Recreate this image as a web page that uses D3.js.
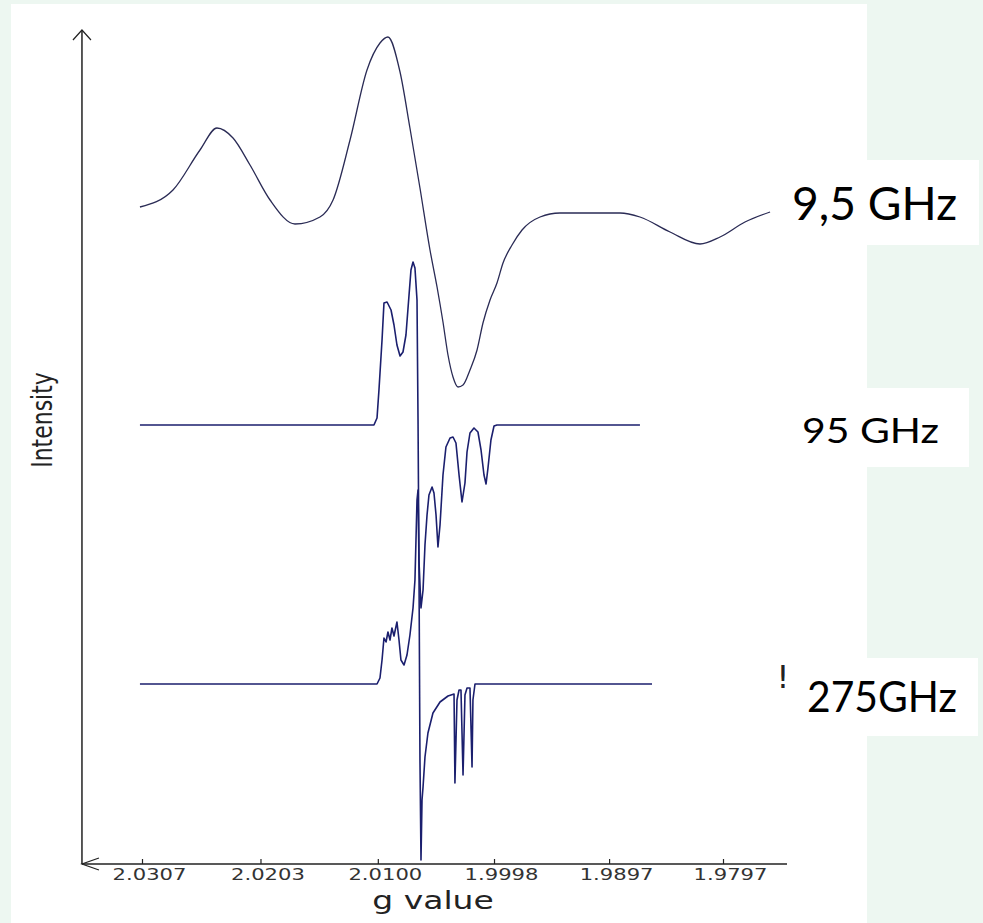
<!DOCTYPE html>
<html>
<head>
<meta charset="utf-8">
<script src="https://cdn.jsdelivr.net/npm/d3@7"></script>
<style>
  html, body { margin: 0; padding: 0; background: #edf7f1; }
  svg { display: block; }
</style>
</head>
<body>
<div id="chart"></div>
<script>
// g-value tick positions on the x axis
const gTicks = [2.0307, 2.0203, 2.0100, 1.9998, 1.9897, 1.9797];

// spectrum labels and their vertical offsets (arbitrary intensity units)
const labels = ["9,5 GHz", "95 GHz", "275GHz"];
const offsets = [65.1, 43.9, 18.0];

// [g value, intensity], relative to each baseline
const spec9_5 = [
    [2.03088, 0.6], [2.02798, 2.3], [2.02561, 6.3], [2.02412, 8.5], [2.02271, 7.5],
    [2.02122, 4.8], [2.01946, 1.3], [2.01727, -1.1], [2.01508, -0.4], [2.01393, 1.3],
    [2.01244, 7.3], [2.01095, 14.3], [2.00981, 17.0], [2.00911, 17.6], [2.00805, 14.1],
    [2.00718, 8.5], [2.00630, 2.5], [2.00542, -3.7], [2.00480, -7.4], [2.00428, -10.9],
    [2.00384, -14.2], [2.00340, -16.4], [2.00296, -17.4], [2.00252, -17.2], [2.00191, -15.7],
    [2.00129, -13.7], [2.00077, -11.0], [2.00015, -8.7], [1.99954, -7.0], [1.99901, -5.0],
    [1.99822, -3.2], [1.99734, -1.7], [1.99576, -0.4], [1.99401, 0], [1.98874, 0],
    [1.98699, -0.4], [1.98435, -1.9], [1.98172, -3.1], [1.97996, -2.4], [1.97777, -0.9],
    [1.97557, 0.1]
];

const spec95 = [
    [2.03088, 0], [2.01034, 0], [2.01007, 0.7], [2.00990, 3.5], [2.00963, 8.5],
    [2.00946, 12.2], [2.00919, 12.3], [2.00884, 11.5], [2.00858, 10.0], [2.00832, 8.0],
    [2.00805, 6.9], [2.00779, 7.3], [2.00753, 9.0], [2.00726, 13.0], [2.00709, 15.5],
    [2.00691, 16.3], [2.00674, 15.7], [2.00656, 12.5], [2.00647, 0.5], [2.00639, -13.5],
    [2.00621, -18.3], [2.00603, -16.5], [2.00586, -12.0], [2.00568, -9.0], [2.00551, -7.0],
    [2.00524, -6.2], [2.00507, -6.8], [2.00489, -9.0], [2.00472, -12.2], [2.00454, -10.0],
    [2.00428, -5.0], [2.00402, -2.2], [2.00366, -1.3], [2.00340, -1.2], [2.00314, -1.8],
    [2.00287, -5.0], [2.00261, -7.7], [2.00235, -5.8], [2.00217, -2.7], [2.00191, -0.8],
    [2.00156, -0.3], [2.00121, -0.7], [2.00094, -2.5], [2.00068, -5.0], [2.00050, -5.9],
    [2.00033, -4.3], [2.00007, -1.5], [1.99980, -0.1], [1.99954, 0], [1.98699, 0]
];

const spec275 = [
    [2.03088, 0], [2.01007, 0], [2.00981, 0.6], [2.00963, 2.4], [2.00946, 4.6],
    [2.00928, 4.2], [2.00911, 5.2], [2.00893, 4.4], [2.00876, 5.6], [2.00858, 4.8],
    [2.00832, 6.2], [2.00814, 4.4], [2.00797, 2.4], [2.00770, 1.9], [2.00744, 2.9],
    [2.00718, 4.9], [2.00691, 7.6], [2.00674, 10.4], [2.00665, 14.4], [2.00656, 18.4],
    [2.00647, 19.4], [2.00639, 12.4], [2.00630, -7.6], [2.00621, -17.6], [2.00612, -11.6],
    [2.00603, -10.3], [2.00586, -7.3], [2.00560, -4.9], [2.00516, -2.9], [2.00454, -1.8],
    [2.00384, -1.2], [2.00331, -1.0], [2.00323, -9.9], [2.00305, -1.6], [2.00287, -0.6],
    [2.00270, -0.6], [2.00252, -9.1], [2.00235, -1.1], [2.00217, -0.4], [2.00191, -0.4],
    [2.00173, -8.3], [2.00165, -1.6], [2.00147, 0], [1.98593, 0]
];

const width = 983, height = 923;

const svg = d3.select("#chart")
    .append("svg")
    .attr("width", width)
    .attr("height", height);

// white plot panel
svg.append("rect")
    .attr("x", 11).attr("y", 4)
    .attr("width", 856).attr("height", height - 4)
    .attr("fill", "#ffffff");

// Scales
const x = d3.scaleLinear()
    .domain([2.0307, 1.9797])
    .range([142, 723]);

const y = d3.scaleLinear()
    .domain([0, 83.4])
    .range([864, 30]);

const axisY = y(0);
const axisLeft = x(2.03597), axisRight = x(1.97408);

// Spectra
const smooth = d3.line().curve(d3.curveMonotoneX);
const sharp = d3.line();

const spectra = [spec9_5, spec95, spec275];
spectra.forEach((spec, i) => {
    const gen = i === 0 ? smooth : sharp;
    svg.append("path")
        .attr("d", gen(spec.map(d => [x(d[0]), y(d[1] + offsets[i])])))
        .attr("fill", "none")
        .attr("stroke", i === 0 ? "#2a2b55" : "#1b1f6e")
        .attr("stroke-width", i === 0 ? 1.3 : 1.6)
        .attr("stroke-linejoin", "round");
});

// Axes lines with arrow heads
const axisColor = "#222";
svg.append("line")
    .attr("x1", axisLeft).attr("y1", y(83.4))
    .attr("x2", axisLeft).attr("y2", axisY)
    .attr("stroke", axisColor).attr("stroke-width", 1.5);
svg.append("path")
    .attr("d", `M${axisLeft - 9},${y(83.4) + 10}L${axisLeft},${y(83.4)}L${axisLeft + 9},${y(83.4) + 10}`)
    .attr("fill", "none").attr("stroke", axisColor).attr("stroke-width", 1.2);

svg.append("line")
    .attr("x1", axisLeft).attr("y1", axisY)
    .attr("x2", axisRight).attr("y2", axisY)
    .attr("stroke", axisColor).attr("stroke-width", 1.5);
svg.append("path")
    .attr("d", `M${axisLeft + 17},${axisY - 6}L${axisLeft},${axisY}L${axisLeft + 17},${axisY + 6}`)
    .attr("fill", "none").attr("stroke", axisColor).attr("stroke-width", 1.2);

// X ticks (pointing up) and labels
const xAxis = svg.append("g")
    .attr("transform", `translate(0,${axisY})`)
    .call(d3.axisBottom(x)
        .tickValues(gTicks)
        .tickFormat(d3.format(".4f"))
        .tickSizeInner(-5)
        .tickSizeOuter(0)
        .tickPadding(5));

xAxis.select(".domain").remove();
xAxis.selectAll(".tick line").attr("stroke", axisColor).attr("stroke-width", 1.2);
xAxis.selectAll(".tick text")
    .attr("fill", "#333")
    .style("font-family", "DejaVu Sans")
    .style("font-size", "16px")
    .attr("transform", "translate(7,0) scale(1.32,1)");

// Axis titles
svg.append("text")
    .attr("transform", `translate(433,909) scale(1.32,1)`)
    .attr("text-anchor", "middle")
    .attr("fill", "#222")
    .style("font-family", "DejaVu Sans")
    .style("font-size", "25px")
    .text("g value");

svg.append("text")
    .attr("transform", `translate(42,420) scale(1.32,1) rotate(-90)`)
    .attr("text-anchor", "middle")
    .attr("dy", "0.35em")
    .attr("fill", "#222")
    .style("font-family", "DejaVu Sans")
    .style("font-size", "22px")
    .text("Intensity");

// stray mark left over next to the 275 GHz label
svg.append("text")
    .attr("x", 783).attr("y", 688)
    .attr("text-anchor", "middle")
    .attr("fill", "#222")
    .style("font-family", "DejaVu Sans")
    .style("font-size", "32px")
    .text("!");

// Frequency labels in white boxes
const boxes = [
    { x0: 775, y0: 160, x1: 979, y1: 245, tx: 792, ty: 220, size: 46, len: 165 },
    { x0: 775, y0: 388, x1: 969, y1: 467, tx: 802, ty: 443, size: 35, len: 137 },
    { x0: 790, y0: 658, x1: 978, y1: 736, tx: 807, ty: 712, size: 43, len: 150 }
];

boxes.forEach((b, i) => {
    svg.append("rect")
        .attr("x", b.x0).attr("y", b.y0)
        .attr("width", b.x1 - b.x0).attr("height", b.y1 - b.y0)
        .attr("fill", "#ffffff");
    svg.append("text")
        .attr("x", b.tx).attr("y", b.ty)
        .attr("fill", "#000")
        .attr("textLength", b.len)
        .attr("lengthAdjust", "spacingAndGlyphs")
        .style("font-family", "Lato")
        .style("font-size", b.size + "px")
        .text(labels[i]);
});
</script>
</body>
</html>
